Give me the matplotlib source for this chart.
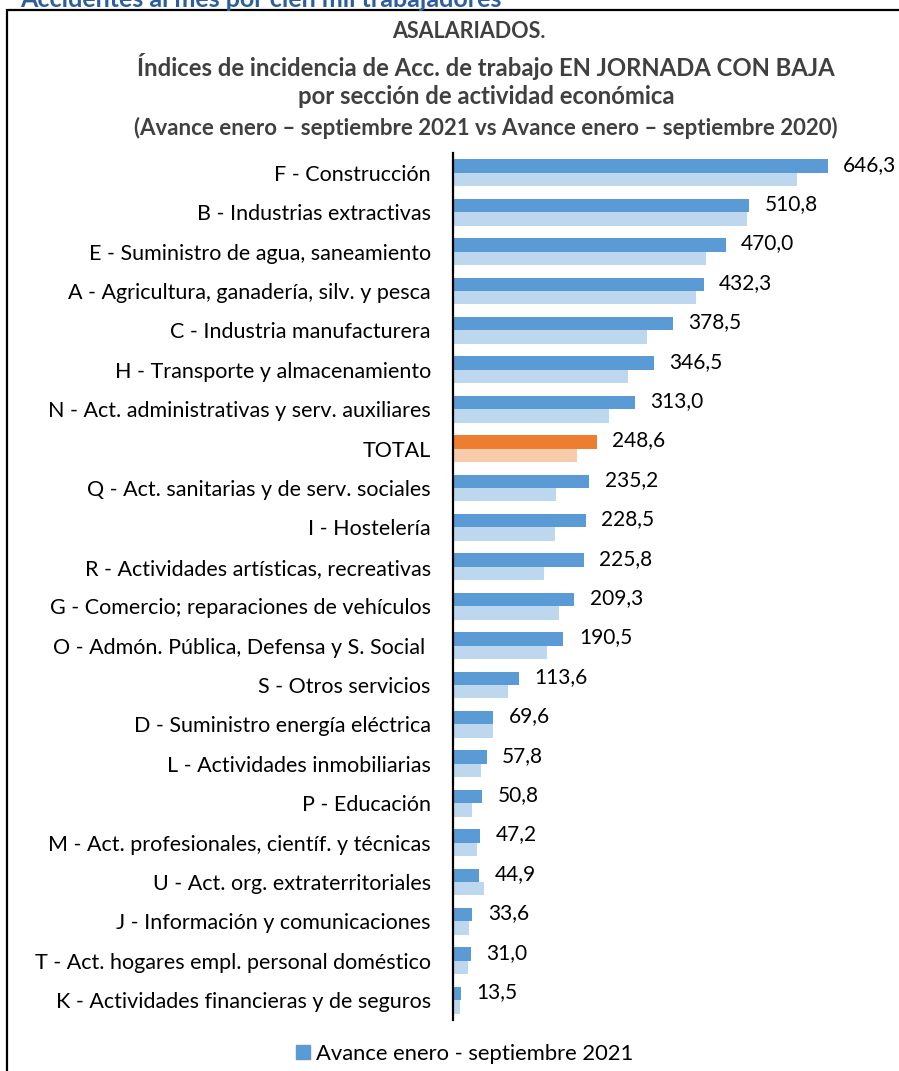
import matplotlib.pyplot as plt
import numpy as np
from matplotlib.patches import Patch, Rectangle

plt.rcParams["font.family"] = ["Lato", "DejaVu Sans"]

W, H = 899, 1071

sections = [
    "F - Construcción",
    "B - Industrias extractivas",
    "E - Suministro de agua, saneamiento",
    "A - Agricultura, ganadería, silv. y pesca",
    "C - Industria manufacturera",
    "H - Transporte y almacenamiento",
    "N - Act. administrativas y serv. auxiliares",
    "TOTAL",
    "Q - Act. sanitarias y de serv. sociales",
    "I - Hostelería",
    "R - Actividades artísticas, recreativas",
    "G - Comercio; reparaciones de vehículos",
    "O - Admón. Pública, Defensa y S. Social ",
    "S - Otros servicios",
    "D - Suministro energía eléctrica",
    "L - Actividades inmobiliarias",
    "P - Educación",
    "M - Act. profesionales, científ. y técnicas",
    "U - Act. org. extraterritoriales",
    "J - Información y comunicaciones",
    "T - Act. hogares empl. personal doméstico",
    "K - Actividades financieras y de seguros",
]
avance_2021 = [646.3, 510.8, 470.0, 432.3, 378.5, 346.5, 313.0, 248.6, 235.2, 228.5,
               225.8, 209.3, 190.5, 113.6, 69.6, 57.8, 50.8, 47.2, 44.9, 33.6, 31.0, 13.5]
avance_2020 = [592.6, 507.4, 436.2, 419.0, 335.0, 302.0, 269.0, 213.0, 177.0, 176.0,
               157.0, 183.0, 161.5, 95.4, 69.0, 49.0, 33.0, 41.0, 54.0, 27.6, 26.4, 12.0]

BLUE, LIGHT_BLUE = "#5B9BD5", "#BDD7EE"
ORANGE, LIGHT_ORANGE = "#ED7D31", "#F8CBAD"


def fx(px):
    return px / W


def fy(py):
    return 1 - py / H


fig = plt.figure(figsize=(W / 100, H / 100), dpi=100)

# outer frame (only top and left edges fall inside the canvas)
fig.add_artist(Rectangle((fx(7), -0.2), 1.5, fy(10) + 0.2, transform=fig.transFigure,
                         fill=False, edgecolor="black", linewidth=1.6))

fig.text(fx(20), fy(7), "Accidentes al mes por cien mil trabajadores", color="#2E5E9E",
         fontsize=18, fontweight="bold", ha="left", va="baseline")

title_color = "#404040"
fig.text(fx(469), fy(32), "ASALARIADOS.", ha="center", va="center",
         fontsize=15.5, fontweight="bold", color=title_color)
fig.text(fx(486), fy(66), "Índices de incidencia de Acc. de trabajo EN JORNADA CON BAJA",
         ha="center", va="center", fontsize=17.2, fontweight="bold", color=title_color)
fig.text(fx(486), fy(97), "por sección de actividad económica", ha="center", va="center",
         fontsize=17.2, fontweight="bold", color=title_color)
fig.text(fx(486), fy(128), "(Avance enero – septiembre 2021 vs Avance enero – septiembre 2020)",
         ha="center", va="center", fontsize=16, fontweight="bold", color=title_color)

ax_left, ax_right = 453, 899
ax_top, ax_bottom = 153, 1020
ax = fig.add_axes([fx(ax_left), fy(ax_bottom), fx(ax_right - ax_left), (ax_bottom - ax_top) / H])

y = np.arange(len(sections))
bh = 0.34
dark = [ORANGE if s == "TOTAL" else BLUE for s in sections]
light = [LIGHT_ORANGE if s == "TOTAL" else LIGHT_BLUE for s in sections]

ax.barh(y - bh / 2, avance_2021, height=bh, color=dark, label="Avance enero - septiembre 2021")
ax.barh(y + bh / 2, avance_2020, height=bh, color=light, label="Avance enero - septiembre 2020")

for yi, v in zip(y, avance_2021):
    ax.annotate(f"{v:.1f}".replace(".", ","), (v, yi - bh / 2), xytext=(11, 1),
                textcoords="offset points", ha="left", va="center", fontsize=15, color="black")

ax.set_xlim(0, (ax_right - ax_left) / 0.58)
ax.set_ylim(len(sections) - 0.5, -0.5)
ax.set_yticks(y)
ax.set_yticklabels(sections, fontsize=15.5)
ax.tick_params(axis="y", length=0, pad=16)
ax.set_xticks([])
for side in ["top", "right", "bottom"]:
    ax.spines[side].set_visible(False)
ax.spines["left"].set_linewidth(1.6)
ax.patch.set_alpha(0)

fig.legend(handles=[Patch(color=BLUE, label="Avance enero - septiembre 2021")],
           loc="center", bbox_to_anchor=(fx(465), fy(1054)), frameon=False, fontsize=15.8,
           handlelength=0.6, handleheight=0.6, handletextpad=0.3)

fig.savefig("out.png", dpi=100)
